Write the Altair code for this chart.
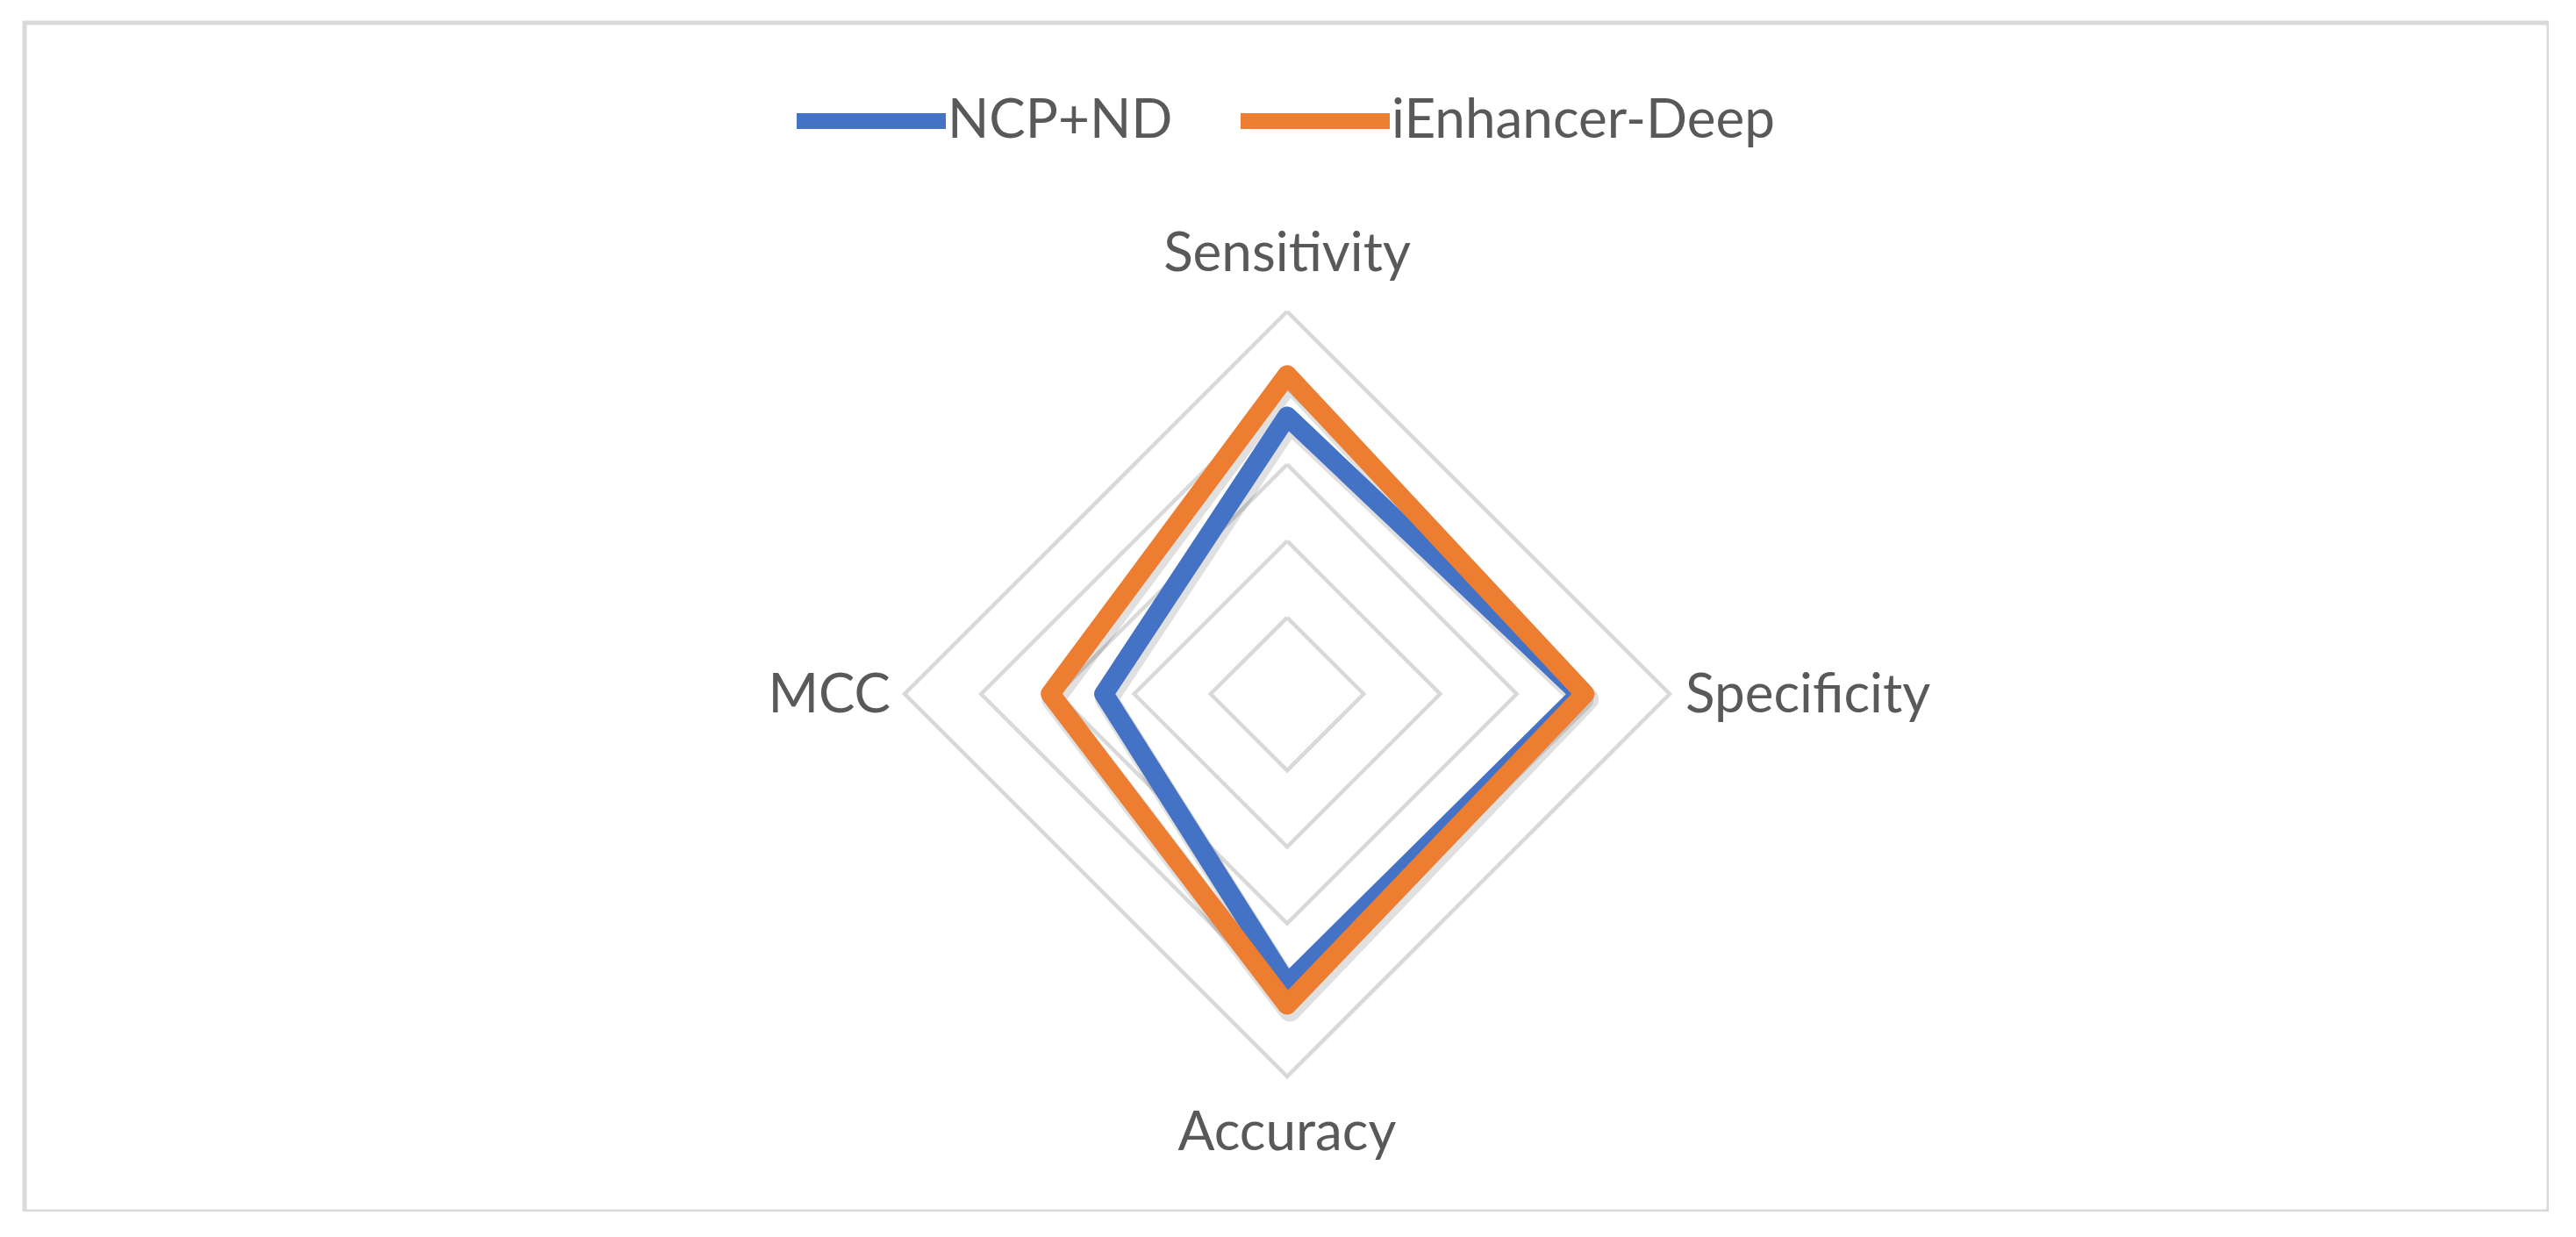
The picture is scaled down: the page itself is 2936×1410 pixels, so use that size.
import altair as alt
import pandas as pd

categories = ["Sensitivity", "Specificity", "Accuracy", "MCC"]
series_names = ["NCP+ND", "iEnhancer-Deep"]
ncp_nd = [0.726, 0.765, 0.758, 0.479]
ienhancer_deep = [0.834, 0.778, 0.813, 0.619]
ring_levels = [0.2, 0.4, 0.6, 0.8, 1.0]
series_colors = ["#4472C4", "#ED7D31"]

n = len(categories)

rows = []
for s, vals in zip(series_names, [ncp_nd, ienhancer_deep]):
    for k in range(n + 1):
        i = k % n
        rows.append({"series": s, "category": categories[i], "idx": i, "ord": k, "value": vals[i]})
series_df = pd.DataFrame(rows)

ring_rows = []
for lv in ring_levels:
    for k in range(n + 1):
        i = k % n
        ring_rows.append({"level": lv, "idx": i, "ord": k, "value": lv})
ring_df = pd.DataFrame(ring_rows)

label_df = pd.DataFrame({"category": categories, "idx": list(range(n)), "value": [1.0] * n})

xscale = alt.Scale(domain=[-3.3005, 3.2981], nice=False, zero=False)
yscale = alt.Scale(domain=[-1.3532, 1.7546], nice=False, zero=False)

def polar(ch):
    return ch.transform_calculate(
        theta=f"datum.idx * 2 * PI / {n}"
    ).transform_calculate(
        px="datum.value * sin(datum.theta)",
        py="datum.value * cos(datum.theta)",
    )

rings = polar(alt.Chart(ring_df)).mark_line(
    color="#d9d9d9", strokeWidth=4.5, strokeJoin="miter"
).encode(
    x=alt.X("px:Q", scale=xscale, axis=None),
    y=alt.Y("py:Q", scale=yscale, axis=None),
    detail="level:N",
    order="ord:Q",
)

shadow = polar(alt.Chart(series_df)).mark_line(
    color="#000000", opacity=0.12, strokeWidth=26, strokeJoin="round",
    xOffset=3, yOffset=6,
).encode(
    x=alt.X("px:Q", scale=xscale, axis=None),
    y=alt.Y("py:Q", scale=yscale, axis=None),
    detail="series:N",
    order="ord:Q",
)

lines = polar(alt.Chart(series_df)).mark_line(
    strokeWidth=22, strokeJoin="round", strokeCap="round"
).encode(
    x=alt.X("px:Q", scale=xscale, axis=None),
    y=alt.Y("py:Q", scale=yscale, axis=None),
    color=alt.Color(
        "series:N",
        scale=alt.Scale(domain=series_names, range=series_colors),
        sort=series_names,
        legend=alt.Legend(
            title=None,
            orient="none",
            legendX=871,
            legendY=18,
            direction="horizontal",
            symbolType="stroke",
            symbolSize=28900,
            symbolStrokeWidth=18,
            labelFont="Lato",
            labelFontSize=62,
            labelColor="#595959",
            labelOffset={"expr": "-7"},
            labelLimit=1000,
            columnPadding=41,
        ),
    ),
    order="ord:Q",
)

label_base = polar(alt.Chart(label_df))

lab_tb = label_base.transform_filter("datum.idx % 2 == 0").transform_calculate(
    py2="datum.py * 1.15"
).mark_text(font="Lato", fontSize=62, color="#595959", align="center", baseline="middle").encode(
    x=alt.X("px:Q", scale=xscale, axis=None),
    y=alt.Y("py2:Q", scale=yscale, axis=None),
    text="category:N",
)

lab_r = label_base.transform_filter("datum.idx == 1").mark_text(
    font="Lato", fontSize=62, color="#595959", align="left", baseline="middle", dx=18, dy=2
).encode(
    x=alt.X("px:Q", scale=xscale, axis=None),
    y=alt.Y("py:Q", scale=yscale, axis=None),
    text="category:N",
)

lab_l = label_base.transform_filter("datum.idx == 3").mark_text(
    font="Lato", fontSize=62, color="#595959", align="right", baseline="middle", dx=-16, dy=2
).encode(
    x=alt.X("px:Q", scale=xscale, axis=None),
    y=alt.Y("py:Q", scale=yscale, axis=None),
    text="category:N",
)

chart = alt.layer(rings, shadow, lines, lab_tb, lab_r, lab_l).properties(
    width=2877,
    height=1355,
    padding={"left": 20, "top": 18, "right": 0, "bottom": 0},
    background="white",
).configure_view(
    stroke="#d9d9d9", strokeWidth=5
)

chart.save("out.html", embed_options={"renderer": "svg", "actions": False})
